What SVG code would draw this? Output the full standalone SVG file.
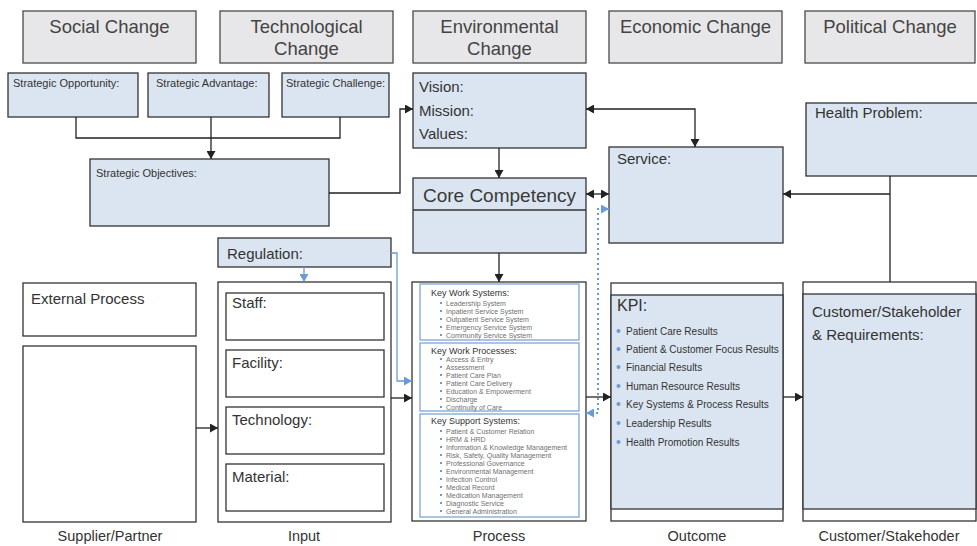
<svg xmlns="http://www.w3.org/2000/svg" width="977" height="546" viewBox="0 0 977 546">
<style>
text{font-family:"Liberation Sans",Arial,sans-serif;fill:#333}
.hd{fill:#e7e7e9;stroke:#4a4a4a;stroke-width:1.3}
.bl{fill:#dbe5f1;stroke:#333;stroke-width:1.3}
.wt{fill:#fff;stroke:#333;stroke-width:1.3}
.ib{fill:#fff;stroke:#7aa6da;stroke-width:1.3}
.ht{font-size:18.5px;text-anchor:middle;fill:#444}
.sm{font-size:11px}
.md{font-size:15px}
.ti{font-size:9px}
.li text{font-size:7px;fill:#707070}
.kp text{font-size:10px}
.ft{font-size:14.5px;text-anchor:middle}
.ln{fill:none;stroke:#222;stroke-width:1.3}
.bln{fill:none;stroke:#6b9bd6;stroke-width:1.3}
.dot{fill:none;stroke:#6b9bd6;stroke-width:2;stroke-dasharray:2 3}
.bd{fill:#6b9bd6}
</style>
<defs>
<marker id="ab" markerUnits="userSpaceOnUse" markerWidth="9" markerHeight="9" refX="8" refY="4.5" orient="auto-start-reverse"><path d="M0,0 L8,4.5 L0,9 z" fill="#222"/></marker>
<marker id="au" markerUnits="userSpaceOnUse" markerWidth="9" markerHeight="9" refX="8" refY="4.5" orient="auto-start-reverse"><path d="M0,0 L8,4.5 L0,9 z" fill="#6b9bd6"/></marker>
</defs>

<g id="headers">
<g id="social"><rect class="hd" x="23" y="11" width="173" height="52"/><text class="ht" x="109.5" y="33">Social Change</text></g>
<g id="technological"><rect class="hd" x="220" y="11" width="173" height="52"/><text class="ht" x="306.5" y="33">Technological</text><text class="ht" x="306.5" y="55">Change</text></g>
<g id="environmental"><rect class="hd" x="413" y="11" width="173" height="52"/><text class="ht" x="499.5" y="33">Environmental</text><text class="ht" x="499.5" y="55">Change</text></g>
<g id="economic"><rect class="hd" x="609" y="11" width="173" height="52"/><text class="ht" x="695.5" y="33">Economic Change</text></g>
<g id="political"><rect class="hd" x="805" y="11" width="170" height="52"/><text class="ht" x="890" y="33">Political Change</text></g>
</g>

<g id="strategic-opportunity"><rect class="bl" x="8" y="73" width="130" height="44"/><text class="sm" x="13" y="87">Strategic Opportunity:</text></g>
<g id="strategic-advantage"><rect class="bl" x="148" y="73" width="121" height="44"/><text class="sm" x="156" y="87">Strategic Advantage:</text></g>
<g id="strategic-challenge"><rect class="bl" x="282" y="73" width="107" height="44"/><text class="sm" x="286" y="87">Strategic Challenge:</text></g>
<g id="strategic-objectives"><rect class="bl" x="90" y="159" width="239" height="67"/><text class="sm" x="96" y="177">Strategic Objectives:</text></g>

<g id="vision"><rect class="bl" x="413" y="73" width="173" height="75"/><text class="md" x="419" y="92">Vision:</text><text class="md" x="419" y="116">Mission:</text><text class="md" x="419" y="139">Values:</text></g>
<g id="core-competency"><rect class="bl" x="413" y="178" width="173" height="75"/><line x1="413" y1="210" x2="586" y2="210" stroke="#333" stroke-width="1.3"/><text x="499.5" y="202" style="font-size:19px;text-anchor:middle;fill:#3a3a3a">Core Competency</text></g>
<g id="service"><rect class="bl" x="609" y="147" width="174" height="96"/><text class="md" x="617" y="164">Service:</text></g>
<g id="health-problem"><rect class="bl" x="806" y="103" width="175" height="73"/><text class="md" x="815" y="118">Health Problem:</text></g>

<g id="regulation"><rect class="bl" x="218" y="238" width="173" height="29"/><text class="md" x="227" y="259">Regulation:</text></g>

<g id="supplier">
<rect class="wt" x="23" y="283" width="173" height="53"/><text class="md" x="31" y="304">External Process</text>
<rect class="wt" x="23" y="346" width="173" height="176"/>
</g>

<g id="input">
<rect class="wt" x="218" y="282" width="173" height="240"/>
<rect class="wt" x="226" y="293" width="158" height="47"/><text class="md" x="232" y="308">Staff:</text>
<rect class="wt" x="226" y="350" width="158" height="47"/><text class="md" x="232" y="368">Facility:</text>
<rect class="wt" x="226" y="407" width="158" height="47"/><text class="md" x="232" y="425">Technology:</text>
<rect class="wt" x="226" y="464" width="158" height="47"/><text class="md" x="232" y="482">Material:</text>
</g>

<g id="process">
<rect class="wt" x="412" y="282" width="174" height="239"/>
<rect class="ib" x="420" y="284" width="159" height="56"/>
<text class="ti" x="431" y="296">Key Work Systems:</text>
<g class="li">
<text x="446" y="305.5">Leadership System</text>
<text x="446" y="313.5">Inpatient Service System</text>
<text x="446" y="321.5">Outpatient Service System</text>
<text x="446" y="329.5">Emergency Service System</text>
<text x="446" y="337.5">Community Service System</text>
</g>
<rect class="ib" x="420" y="343" width="159" height="68"/>
<text class="ti" x="431" y="354">Key Work Processes:</text>
<g class="li">
<text x="446" y="361.5">Access &amp; Entry</text>
<text x="446" y="369.5">Assessment</text>
<text x="446" y="377.5">Patient Care Plan</text>
<text x="446" y="385.5">Patient Care Delivery</text>
<text x="446" y="393.5">Education &amp; Empowerment</text>
<text x="446" y="401.5">Discharge</text>
<text x="446" y="409.5">Continuity of Care</text>
</g>
<rect class="ib" x="420" y="414" width="159" height="103"/>
<text class="ti" x="431" y="424">Key Support Systems:</text>
<g class="li">
<text x="446" y="433.5">Patient &amp; Customer Relation</text>
<text x="446" y="441.5">HRM &amp; HRD</text>
<text x="446" y="449.5">Information &amp; Knowledge Management</text>
<text x="446" y="457.5">Risk, Safety, Quality Management</text>
<text x="446" y="465.5">Professional Governance</text>
<text x="446" y="473.5">Environmental Management</text>
<text x="446" y="481.5">Infection Control</text>
<text x="446" y="489.5">Medical Record</text>
<text x="446" y="497.5">Medication Management</text>
<text x="446" y="505.5">Diagnostic Service</text>
<text x="446" y="513.5">General Administration</text>
</g>
<g class="bd">
<rect x="440" y="302" width="2" height="2"/><rect x="440" y="310" width="2" height="2"/><rect x="440" y="318" width="2" height="2"/><rect x="440" y="326" width="2" height="2"/><rect x="440" y="334" width="2" height="2"/>
<rect x="440" y="358" width="2" height="2"/><rect x="440" y="366" width="2" height="2"/><rect x="440" y="374" width="2" height="2"/><rect x="440" y="382" width="2" height="2"/><rect x="440" y="390" width="2" height="2"/><rect x="440" y="398" width="2" height="2"/><rect x="440" y="406" width="2" height="2"/>
<rect x="440" y="430" width="2" height="2"/><rect x="440" y="438" width="2" height="2"/><rect x="440" y="446" width="2" height="2"/><rect x="440" y="454" width="2" height="2"/><rect x="440" y="462" width="2" height="2"/><rect x="440" y="470" width="2" height="2"/><rect x="440" y="478" width="2" height="2"/><rect x="440" y="486" width="2" height="2"/><rect x="440" y="494" width="2" height="2"/><rect x="440" y="502" width="2" height="2"/><rect x="440" y="510" width="2" height="2"/>
</g>
</g>

<g id="kpi">
<rect class="wt" x="611" y="283" width="172" height="238"/>
<rect class="bl" x="611" y="295" width="172" height="214"/>
<text x="617" y="311" style="font-size:16px">KPI:</text>
<g class="kp">
<text x="626" y="334.5">Patient Care Results</text>
<text x="626" y="352.5">Patient &amp; Customer Focus Results</text>
<text x="626" y="370.5">Financial Results</text>
<text x="626" y="389.5">Human Resource Results</text>
<text x="626" y="407.5">Key Systems &amp; Process Results</text>
<text x="626" y="426.5">Leadership Results</text>
<text x="626" y="445.5">Health Promotion Results</text>
</g>
<g class="bd">
<circle cx="618.5" cy="331" r="2"/><circle cx="618.5" cy="349" r="2"/><circle cx="618.5" cy="367" r="2"/><circle cx="618.5" cy="386" r="2"/><circle cx="618.5" cy="404" r="2"/><circle cx="618.5" cy="423" r="2"/><circle cx="618.5" cy="442" r="2"/>
</g>
</g>

<g id="customer">
<rect class="wt" x="803" y="282" width="173" height="239"/>
<rect class="bl" x="803" y="294" width="173" height="215"/>
<text class="md" x="812" y="317">Customer/Stakeholder</text>
<text class="md" x="812" y="340">&amp; Requirements:</text>
</g>

<g id="connectors">
<path class="ln" d="M76,117 V138 H340 V117"/>
<path class="ln" d="M211,117 V159" marker-end="url(#ab)"/>
<path class="ln" d="M329,193 H400 V109 H413" marker-end="url(#ab)"/>
<path class="ln" d="M499,148 V178" marker-end="url(#ab)"/>
<path class="ln" d="M499,253 V282" marker-end="url(#ab)"/>
<path class="ln" d="M586,109 H695 V147" marker-start="url(#ab)" marker-end="url(#ab)"/>
<path class="ln" d="M586,194 H609" marker-start="url(#ab)" marker-end="url(#ab)"/>
<path class="ln" d="M890,176 V282"/>
<path class="ln" d="M890,194 H783" marker-end="url(#ab)"/>
<path class="ln" d="M196,428 H218" marker-end="url(#ab)"/>
<path class="ln" d="M391,398 H412" marker-end="url(#ab)"/>
<path class="ln" d="M586,397 H611" marker-end="url(#ab)"/>
<path class="ln" d="M783,397 H803" marker-end="url(#ab)"/>
<path class="bln" d="M304,267 V282" marker-end="url(#au)"/>
<path class="bln" d="M391,253 H397 V381 H412" marker-end="url(#au)"/>
<path class="dot" d="M586,413 H598 V209 H609" marker-start="url(#au)" marker-end="url(#au)"/>
</g>

<g id="footer">
<text class="ft" x="110" y="541">Supplier/Partner</text>
<text class="ft" x="304" y="541">Input</text>
<text class="ft" x="499" y="541">Process</text>
<text class="ft" x="697" y="541">Outcome</text>
<text class="ft" x="889" y="541">Customer/Stakehoder</text>
</g>
</svg>
